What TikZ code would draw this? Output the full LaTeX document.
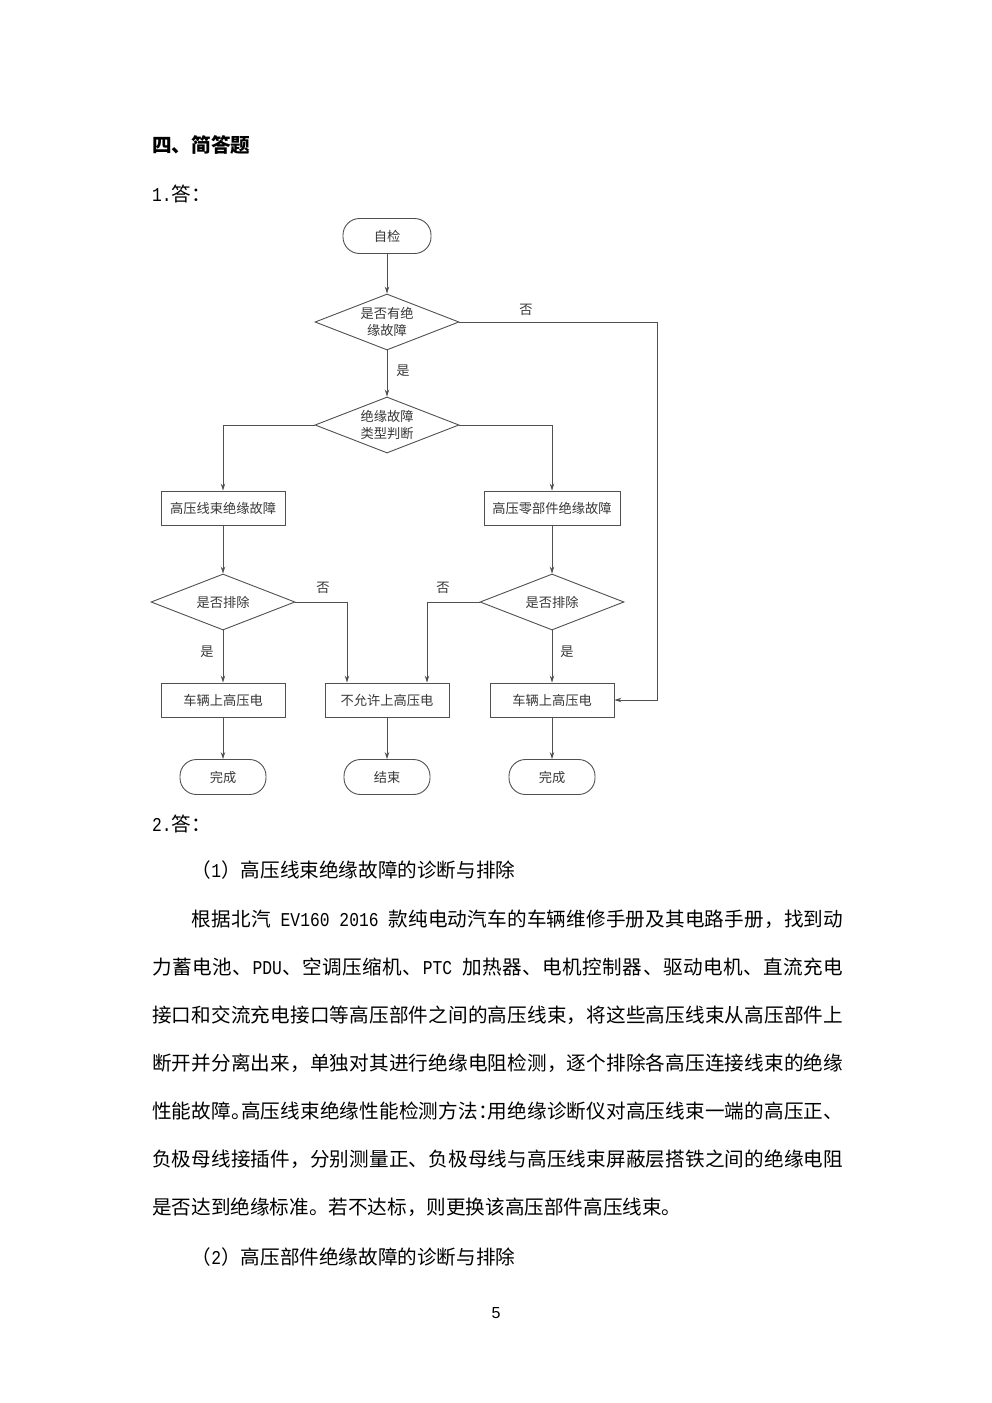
\documentclass[tikz,border=0pt]{standalone}
\usepackage{fontspec}
\setmainfont{Noto Sans CJK SC}
\newfontfamily\latf[FakeStretch=0.833]{Liberation Mono}
\newfontfamily\pnum{Liberation Sans}
\usetikzlibrary{shapes.geometric,arrows.meta,calc}
\definecolor{lc}{HTML}{505050}
\definecolor{tc}{HTML}{383838}
\newcommand\bodyfont{\fontsize{19.6}{47}\selectfont}
\newcommand\flfont{\fontsize{13.25}{17}\selectfont}
% spread a list of units evenly over a given width
\def\sprEnd{\sprend}
\def\sprB#1{\def\sprTmp{#1}\ifx\sprTmp\sprEnd\else\hfil{#1}\expandafter\sprB\fi}
\def\sprA#1{{#1}\sprB}
\newcommand\spread[2]{\hbox to #2{\sprA#1\sprend}}
\newcommand\hw[1]{\makebox[0.5em][l]{#1}}
\tikzset{
  fl/.style={draw=lc, line width=0.9pt, font=\flfont, text=tc, inner sep=0pt},
  proc/.style={fl, rectangle, minimum width=#1, minimum height=34pt},
  term/.style={fl, rectangle, rounded corners=16.5pt, minimum width=86pt, minimum height=35pt},
  dec/.style={fl, diamond, aspect=2.57, minimum width=144pt, minimum height=56pt, align=center},
  arr/.style={draw=lc, line width=0.9pt, -{Stealth[length=7pt,width=4.5pt]}},
  lbl/.style={font=\flfont, text=tc, inner sep=0pt},
  txt/.style={anchor=base west, inner sep=0pt, font=\bodyfont},
}
\begin{document}
\begin{tikzpicture}[x=1pt,y=-1pt]
\fill[white] (0,0) rectangle (992,1403);
\path[use as bounding box] (0,0) rectangle (992,1403);

% headings
\node[txt, font=\bodyfont\bfseries] (h1) at (152,152.5) {四、简答题};
\node[txt] (a1) at (152,201.5) {{\latf 1.}答：};

% flowchart nodes
\node[term, minimum width=88pt] (zj) at (387,236) {自检};
\node[dec] (d1) at (387,322) {是否有绝\\缘故障};
\node[dec] (d2) at (387,425) {绝缘故障\\类型判断};
\node[proc=124pt] (b1) at (223,508) {高压线束绝缘故障};
\node[proc=136pt] (b2) at (552,508) {高压零部件绝缘故障};
\node[dec] (d3) at (223,602) {是否排除};
\node[dec] (d4) at (552,602) {是否排除};
\node[proc=124pt] (r1) at (223,700) {车辆上高压电};
\node[proc=124pt] (nb) at (387,700) {不允许上高压电};
\node[proc=124pt] (r2) at (552,700) {车辆上高压电};
\node[term] (t1) at (223,777) {完成};
\node[term] (t2) at (387,777) {结束};
\node[term] (t3) at (552,777) {完成};
\coordinate (c1) at (657,322);

% connectors
\draw[arr] (zj) -- (d1);
\draw[arr] (d1) -- (d2);
\draw[arr] (d1.east) -- (c1) |- (r2.east);
\draw[arr] (d2.west) -| (b1.north);
\draw[arr] (d2.east) -| (b2.north);
\draw[arr] (b1) -- (d3);
\draw[arr] (b2) -- (d4);
\draw[arr] (d3) -- (r1);
\draw[arr] (d4) -- (r2);
\draw[arr] (d3.east) -| ([xshift=-40pt]nb.north);
\draw[arr] (d4.west) -| ([xshift=40pt]nb.north);
\draw[arr] (r1) -- (t1);
\draw[arr] (nb) -- (t2);
\draw[arr] (r2) -- (t3);

% connector labels
\node[lbl] (l1) at (526,310) {否};
\node[lbl] (l2) at (403,371) {是};
\node[lbl] (l3) at (323,588) {否};
\node[lbl] (l4) at (443,588) {否};
\node[lbl] (l5) at (207,652) {是};
\node[lbl] (l6) at (567,652) {是};

% answer 2
\node[txt] (a2) at (152,831.5) {{\latf 2.}答：};
\node[txt] (p1) at (191.6,877.5) {（{\latf 1}）高压线束绝缘故障的诊断与排除};
\node[txt] (p2) at (191.6,926.5) {\spread{根据北汽{\latf{} EV160 2016 }款纯电动汽车的车辆维修手册及其电路手册，找到动}{651.4pt}};
\node[txt] (p3) at (152,974.5) {\spread{力蓄电池、{\latf PDU}、空调压缩机、{\latf PTC }加热器、电机控制器、驱动电机、直流充电}{691pt}};
\node[txt] (p4) at (152,1022.5) {\spread{接口和交流充电接口等高压部件之间的高压线束，将这些高压线束从高压部件上}{691pt}};
\node[txt] (p5) at (152,1070.5) {\spread{断开并分离出来，单独对其进行绝缘电阻检测，逐个排除各高压连接线束的绝缘}{691pt}};
\node[txt] (p6) at (152,1118.5) {\spread{性能故障{\hw{。}}高压线束绝缘性能检测方法{\hw{：}}用绝缘诊断仪对高压线束一端的高压正、}{691pt}};
\node[txt] (p7) at (152,1166.5) {\spread{负极母线接插件，分别测量正、负极母线与高压线束屏蔽层搭铁之间的绝缘电阻}{691pt}};
\node[txt] (p8) at (152,1214.5) {是否达到绝缘标准。若不达标，则更换该高压部件高压线束。};
\node[txt] (p9) at (191.6,1264.5) {（{\latf 2}）高压部件绝缘故障的诊断与排除};

\node[inner sep=0pt, font=\pnum\fontsize{16}{16}\selectfont] (pg) at (496,1313) {5};
\end{tikzpicture}
\end{document}
